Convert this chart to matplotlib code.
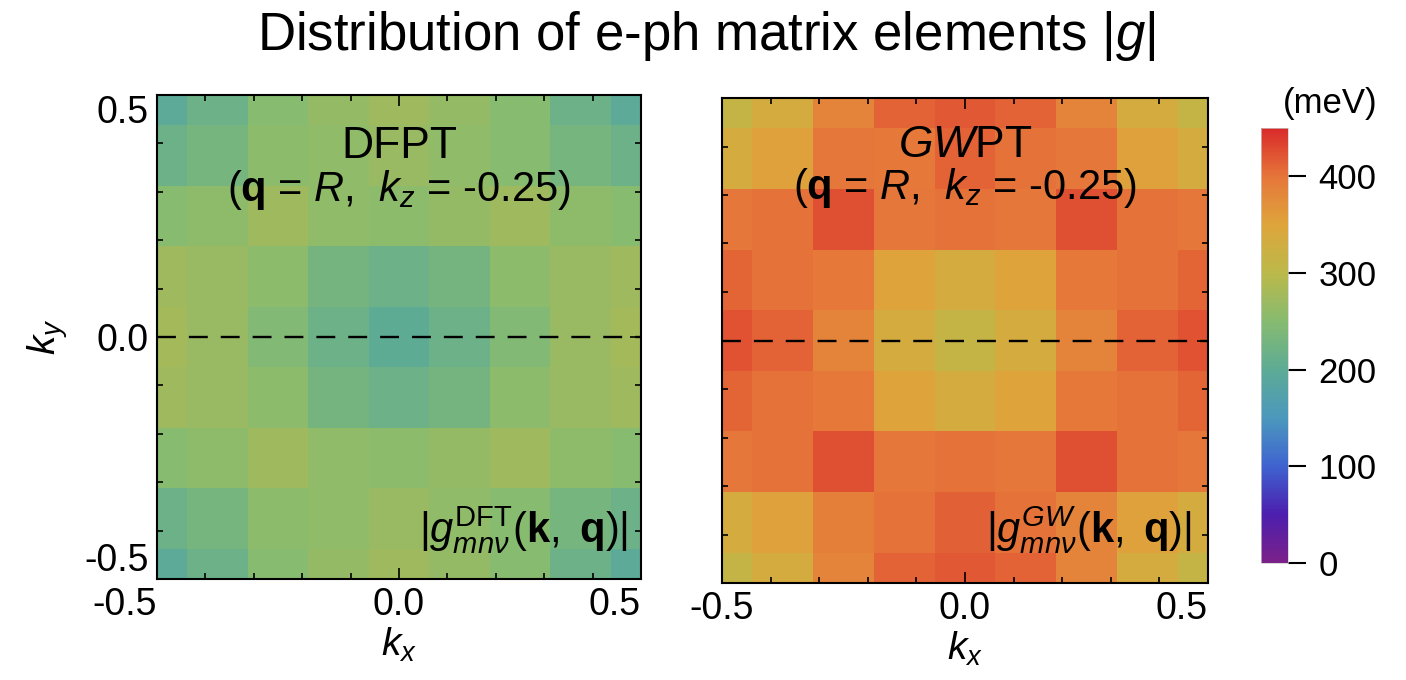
import matplotlib
matplotlib.use("Agg")
import matplotlib.pyplot as plt
from matplotlib.colors import LinearSegmentedColormap
from matplotlib.ticker import MultipleLocator

plt.rcParams['font.family'] = ['Liberation Sans', 'DejaVu Sans']
plt.rcParams['mathtext.fontset'] = 'custom'
plt.rcParams['mathtext.rm'] = 'Liberation Sans'
plt.rcParams['mathtext.it'] = 'Liberation Sans:italic'
plt.rcParams['mathtext.bf'] = 'Liberation Sans:bold'

# k-grid (9 x 9, cell centres), ky from top to bottom
kx = [-0.5, -0.375, -0.25, -0.125, 0.0, 0.125, 0.25, 0.375, 0.5]
ky = [0.5, 0.375, 0.25, 0.125, 0.0, -0.125, -0.25, -0.375, -0.5]

# |g| in meV
g_dfpt = [
    [198, 218, 250, 265, 274, 265, 250, 218, 198],
    [218, 232, 256, 260, 268, 260, 250, 232, 218],
    [250, 258, 274, 260, 255, 262, 274, 258, 250],
    [274, 268, 256, 230, 218, 230, 256, 268, 274],
    [278, 268, 245, 218, 202, 218, 245, 268, 278],
    [274, 268, 256, 230, 218, 230, 256, 268, 274],
    [250, 258, 274, 260, 255, 262, 274, 258, 250],
    [218, 232, 256, 260, 268, 260, 250, 232, 218],
    [198, 218, 250, 265, 274, 265, 250, 218, 198],
]
g_gwpt = [
    [312, 335, 385, 412, 420, 412, 385, 335, 312],
    [335, 355, 398, 396, 412, 402, 398, 355, 335],
    [398, 402, 424, 398, 402, 398, 424, 402, 398],
    [410, 402, 396, 350, 335, 350, 396, 402, 410],
    [422, 412, 385, 335, 312, 335, 385, 412, 422],
    [410, 402, 396, 350, 335, 350, 396, 402, 410],
    [398, 402, 424, 398, 402, 398, 424, 402, 398],
    [335, 355, 390, 402, 414, 402, 385, 355, 335],
    [312, 335, 385, 412, 420, 412, 385, 335, 312],
]

cbar_ticks = [0, 100, 200, 300, 400]
vmax = 450

# rainbow-like map as in the colour bar
cmap = LinearSegmentedColormap.from_list("igor_rainbow", [
    (0.0, "#7b2189"), (0.111, "#4c1fae"), (0.222, "#3f63d0"),
    (0.333, "#4b98bd"), (0.444, "#5dab95"), (0.556, "#86bb70"),
    (0.667, "#bbb94a"), (0.778, "#dea53b"), (0.889, "#e6763a"),
    (1.0, "#d92a2a")])

fig = plt.figure(figsize=(14.06, 6.8), dpi=100)
ax1 = fig.add_axes([157 / 1406, 1 - 579 / 680, 484 / 1406, 484 / 680])
ax2 = fig.add_axes([722 / 1406, 1 - 583 / 680, 486 / 1406, 485 / 680])
cax = fig.add_axes([1261 / 1406, 1 - 563 / 680, 27 / 1406, 435 / 680])

panels = [
    (ax1, g_dfpt, "DFPT", r"$|g^{\mathrm{DFT}}_{mn\nu}(\mathbf{k},\ \mathbf{q})|$", (0.893, 0.804, 0.101, 0.973)),
    (ax2, g_gwpt, r"$GW$PT", r"$|g^{GW}_{mn\nu}(\mathbf{k},\ \mathbf{q})|$", (0.903, 0.814, 0.109, 0.967)),
]

for ax, z, name, glabel, (y1, y2, y3, x3) in panels:
    mesh = ax.pcolormesh(kx, ky, z, shading='nearest', cmap=cmap, vmin=0, vmax=vmax)
    ax.set_xlim(-0.5, 0.5)
    ax.set_ylim(-0.5, 0.5)
    ax.axhline(0, color='black', lw=1.7, ls=(0, (8, 5.5)))
    ax.set_xticks([-0.5, 0.0, 0.5])
    ax.set_xticklabels(['-0.5', '0.0', '0.5'])
    ax.set_yticks([-0.5, 0.0, 0.5])
    ax.set_yticklabels(['-0.5', '0.0', '0.5'])
    ax.xaxis.set_minor_locator(MultipleLocator(0.1))
    ax.yaxis.set_minor_locator(MultipleLocator(0.1))
    ax.tick_params(which='both', direction='in', top=True, right=True, width=1.2, labelsize=27)
    ax.tick_params(which='major', length=8, pad=6)
    ax.tick_params(which='minor', length=4)
    for s in ax.spines.values():
        s.set_linewidth(1.5)
    ax.set_xlabel(r'$k_x$', fontsize=28, labelpad=2)
    ax.text(0.5, y1, name, transform=ax.transAxes, ha='center', va='center', fontsize=32)
    ax.text(0.5, y2, r"($\mathbf{q}$ = $R$,  $k_z$ = -0.25)", transform=ax.transAxes,
            ha='center', va='center', fontsize=30)
    ax.text(x3, y3, glabel, transform=ax.transAxes, ha='right', va='center', fontsize=30)

# tick label placement like the original
xl = ax1.get_xticklabels()
xl[0].set_ha('right')
xl[2].set_ha('right')
ax2.get_xticklabels()[2].set_ha('right')
yl = ax1.get_yticklabels()
yl[0].set_va('bottom')
yl[2].set_va('top')
ax1.set_ylabel(r'$k_y$', fontsize=28, labelpad=10)
ax2.tick_params(labelleft=False)

cb = fig.colorbar(mesh, cax=cax, ticks=cbar_ticks)
cb.outline.set_linewidth(0.5)
cb.outline.set_edgecolor('#cccccc')
cax.tick_params(direction='out', length=13, width=1.5, labelsize=25, pad=9)
fig.text(1330 / 1406, 1 - 103 / 680, '(meV)', ha='center', va='center', fontsize=25)

fig.text(0.502, 1 - 36 / 680, r"Distribution of e-ph matrix elements |$g$|",
         ha='center', va='center', fontsize=38)

fig.savefig("out.png", dpi=100)
